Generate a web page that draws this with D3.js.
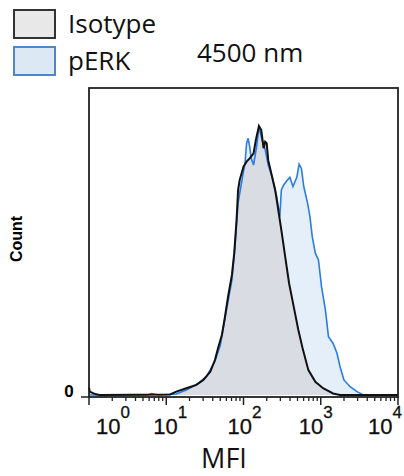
<!DOCTYPE html>
<html>
<head>
<meta charset="utf-8">
<script src="https://cdn.jsdelivr.net/npm/d3@7"></script>
<style>
  body { margin: 0; background: #fff; }
  svg { display: block; }
</style>
</head>
<body>
<div id="chart"></div>
<script>
// log10(MFI) positions and counts
const isoLogMFI = [0.0, 0.01, 0.08, 0.14, 1.05, 1.13, 1.26, 1.39, 1.48, 1.57, 1.63, 1.67, 1.72, 1.76, 1.80, 1.85, 1.88, 1.91, 1.93, 1.95, 2.00, 2.04, 2.08, 2.13, 2.16, 2.20, 2.23, 2.26, 2.28, 2.30, 2.32, 2.37, 2.41, 2.45, 2.49, 2.54, 2.59, 2.65, 2.71, 2.77, 2.84, 2.93, 3.03, 3.16, 3.25, 4.0];
const isoCount  = [2.5, 1.1, 0.3, 0, 0.2, 1.1, 2.2, 3.3, 4.9, 7.6, 11.4, 15.2, 19.5, 25.5, 32.0, 39.1, 46.2, 57.0, 66.8, 70.0, 74.4, 76.0, 77.1, 78.7, 83.1, 87.6, 86.3, 80.4, 82.5, 82.0, 76.5, 71.1, 66.8, 60.3, 53.7, 45.0, 36.4, 28.8, 21.2, 14.7, 8.1, 4.3, 2.2, 0.5, 0, 0];

const erkLogMFI = [0.0, 0.75, 0.81, 0.9, 1.13, 1.26, 1.39, 1.52, 1.63, 1.70, 1.78, 1.85, 1.89, 1.93, 1.98, 2.02, 2.04, 2.06, 2.08, 2.10, 2.13, 2.17, 2.20, 2.24, 2.28, 2.32, 2.37, 2.43, 2.47, 2.49, 2.52, 2.56, 2.60, 2.64, 2.69, 2.72, 2.75, 2.78, 2.83, 2.86, 2.89, 2.93, 2.97, 3.01, 3.06, 3.10, 3.16, 3.21, 3.25, 3.30, 3.38, 3.47, 3.55, 4.0];
const erkCount  = [0, 0, 0.5, 0, 0.3, 1.6, 3.4, 6.0, 10.9, 16.3, 27.7, 37.5, 48.3, 62.5, 70.0, 75.5, 82.0, 83.6, 80.9, 77.1, 74.9, 80.9, 87.3, 83.1, 80.0, 74.9, 71.1, 64.6, 58.1, 66.8, 68.4, 69.8, 70.9, 67.9, 70.9, 75.2, 73.8, 67.9, 62.4, 58.1, 51.6, 46.2, 44.0, 35.3, 27.7, 19.0, 16.8, 13.6, 9.2, 4.9, 2.7, 1.1, 0, 0];

const decades = [0, 1, 2, 3, 4];
const legendKeys = ["Isotype", "pERK"];

const W = 404, H = 476;
const box = {left: 89, top: 88, right: 398, bottom: 397};

const svg = d3.select("#chart").append("svg")
    .attr("width", W)
    .attr("height", H);

const x = d3.scaleLog()
    .domain([1, 10000])
    .range([box.left, box.right]);

const y = d3.scaleLinear()
    .domain([0, 100])
    .range([395, box.top]);

const iso = isoLogMFI.map((d, i) => ({m: Math.pow(10, d), c: isoCount[i]}));
const erk = erkLogMFI.map((d, i) => ({m: Math.pow(10, d), c: erkCount[i]}));

const area = d3.area()
    .x(d => x(d.m))
    .y0(y(0))
    .y1(d => y(d.c));
const line = d3.line()
    .x(d => x(d.m))
    .y(d => y(d.c));

// fills
svg.append("path").datum(erk)
    .attr("d", area)
    .style("fill", "#e5effa");
svg.append("path").datum(iso)
    .attr("d", area)
    .style("fill", "#d9dce2");
// outlines
svg.append("path").datum(erk)
    .attr("d", line)
    .style("fill", "none")
    .style("stroke", "#2a7de1")
    .style("stroke-width", 1.6);
svg.append("path").datum(iso)
    .attr("d", line)
    .style("fill", "none")
    .style("stroke", "#111")
    .style("stroke-width", 2);

// frame
svg.append("rect")
    .attr("x", box.left)
    .attr("y", box.top)
    .attr("width", box.right - box.left)
    .attr("height", box.bottom - box.top)
    .style("fill", "none")
    .style("stroke", "#222")
    .style("stroke-width", 1.8);

// x axis ticks
const minor = [];
for (let e = 0; e < 4; e++) {
    for (let k = 2; k <= 9; k++) minor.push(k * Math.pow(10, e));
}
svg.selectAll(".minor")
    .data(minor)
    .enter().append("line")
    .attr("x1", d => x(d)).attr("x2", d => x(d))
    .attr("y1", box.bottom).attr("y2", box.bottom + 4)
    .style("stroke", "#222")
    .style("stroke-width", 1.3);
svg.selectAll(".major")
    .data(decades)
    .enter().append("line")
    .attr("x1", d => x(Math.pow(10, d))).attr("x2", d => x(Math.pow(10, d)))
    .attr("y1", box.bottom).attr("y2", box.bottom + 8)
    .style("stroke", "#222")
    .style("stroke-width", 1.5);

// x tick labels (10^n)
const nudge = [24, 4, 1, -5, -13];
const lab = svg.selectAll(".xlab")
    .data(decades)
    .enter().append("text")
    .attr("x", (d, i) => x(Math.pow(10, d)) + nudge[i])
    .attr("y", 434)
    .attr("text-anchor", "middle")
    .attr("font-family", "Liberation Sans, Arial")
    .attr("font-size", "22px")
    .style("fill", "#111")
    .style("stroke", "#111")
    .style("stroke-width", 0.3);
lab.append("tspan").text("10");
lab.append("tspan")
    .attr("dy", -16)
    .attr("font-size", "17px")
    .text(d => d);

// y axis zero tick
svg.append("line")
    .attr("x1", 81).attr("x2", box.left)
    .attr("y1", y(0) + 2).attr("y2", y(0) + 2)
    .style("stroke", "#222")
    .style("stroke-width", 1.5);
svg.append("text")
    .attr("x", 69)
    .attr("y", 397)
    .attr("text-anchor", "middle")
    .attr("font-family", "Liberation Sans, Arial")
    .attr("font-weight", "bold")
    .attr("font-size", "17px")
    .text("0");

// axis titles
svg.append("text")
    .attr("transform", "translate(22,239) rotate(-90)")
    .attr("text-anchor", "middle")
    .attr("font-family", "Liberation Sans, Arial")
    .attr("font-weight", "bold")
    .attr("font-size", "16px")
    .text("Count");
svg.append("text")
    .attr("x", 224)
    .attr("y", 468)
    .attr("text-anchor", "middle")
    .attr("font-family", "Open Sans")
    .attr("font-size", "27px")
    .style("fill", "#111")
    .text("MFI");

svg.append("text")
    .attr("x", 197)
    .attr("y", 62)
    .attr("font-family", "Open Sans")
    .attr("font-size", "26px")
    .style("fill", "#111")
    .text("4500 nm");

// legend
const legFill = ["#e8e8e8", "#dde8f5"];
const legStroke = ["#333", "#4f87c6"];
const leg = svg.selectAll(".leg")
    .data(legendKeys)
    .enter().append("g")
    .attr("transform", (d, i) => "translate(14," + (10 + i * 37) + ")");
leg.append("rect")
    .attr("x", 0).attr("y", 0)
    .attr("width", 41).attr("height", 28)
    .style("fill", (d, i) => legFill[i])
    .style("stroke", (d, i) => legStroke[i])
    .style("stroke-width", 2);
leg.append("text")
    .attr("x", 54)
    .attr("y", 23)
    .attr("font-family", "Open Sans")
    .attr("font-size", "26px")
    .style("fill", "#111")
    .text(d => d);
</script>
</body>
</html>
